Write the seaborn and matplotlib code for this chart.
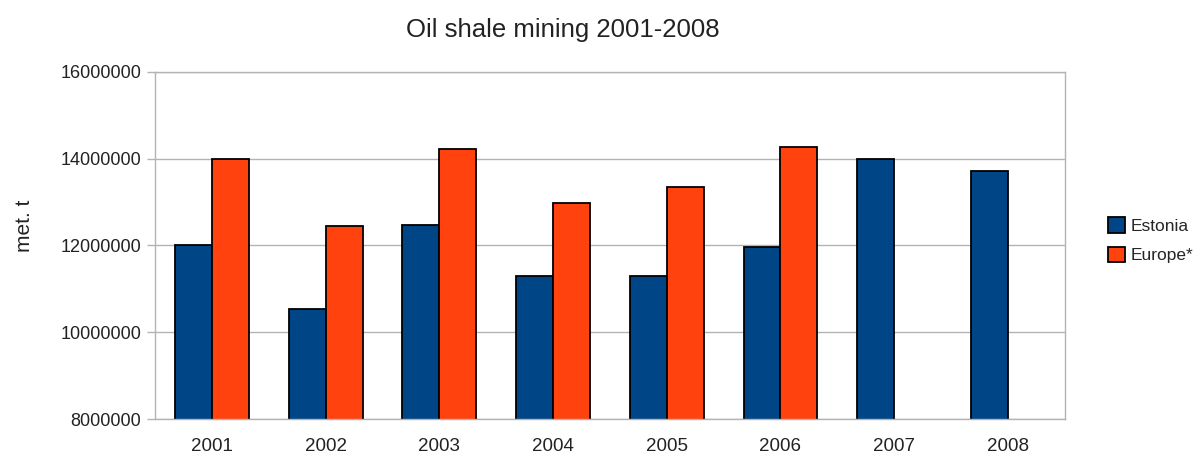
import numpy as np
import pandas as pd
import seaborn as sns
import matplotlib.pyplot as plt
from matplotlib.ticker import FuncFormatter, FixedLocator

years = ['2001', '2002', '2003', '2004', '2005', '2006', '2007', '2008']
estonia = [12000000, 10530000, 12480000, 11300000, 11300000, 11970000, 14000000, 13720000]
europe = [14000000, 12450000, 14220000, 12990000, 13350000, 14260000, np.nan, np.nan]
regions = ['Estonia', 'Europe*']
colors = ['#004586', '#ff420e']

df = pd.DataFrame({
    'year': years * 2,
    'value': estonia + europe,
    'region': [regions[0]] * len(years) + [regions[1]] * len(years),
})

sns.set_style('white')
plt.rcParams['font.family'] = ['Liberation Sans', 'DejaVu Sans']

fig = plt.figure(figsize=(11.94, 4.55), dpi=100)
ax = fig.add_axes([0.1298, 0.079, 0.762, 0.763])

sns.barplot(data=df, x='year', y='value', hue='region', hue_order=regions,
            palette=colors, saturation=1, width=0.65, edgecolor='black',
            linewidth=1.3, errorbar=None, ax=ax)

ax.set_ylim(8000000, 16000000)
ax.set_xlim(-0.5, 7.5)
ax.set_yticks(np.arange(8000000, 16000001, 2000000))
ax.yaxis.set_major_formatter(FuncFormatter(lambda v, p: f'{int(v)}'))
ax.yaxis.grid(True, color='#b3b3b3', linewidth=1)
ax.set_axisbelow(True)

# year labels centred, small ticks on the category boundaries
ax.xaxis.set_minor_locator(FixedLocator(np.arange(-0.5, 8, 1)))
ax.tick_params(axis='x', which='major', length=0, labelsize=13.5, pad=14, colors='#222222')
ax.tick_params(axis='x', which='minor', length=6, color='#b3b3b3', width=1)
ax.tick_params(axis='y', which='major', length=6, color='#b3b3b3', width=1,
               labelsize=13, pad=4, labelcolor='#222222', left=True)

for s in ax.spines.values():
    s.set_visible(True)
    s.set_color('#b3b3b3')
    s.set_linewidth(1)

ax.set_xlabel('')
ax.set_ylabel('met. t', fontsize=15, color='#222222')
ax.yaxis.set_label_coords(-0.133, 0.556)

fig.text(0.4715, 0.934, 'Oil shale mining 2001-2008', ha='center', va='center',
         fontsize=18.5, color='#222222')

handles, labels = ax.get_legend_handles_labels()
ax.legend(handles, labels, loc='center left', bbox_to_anchor=(1.03, 0.515),
          frameon=False, fontsize=12.5, handlelength=1.0, handleheight=1.0,
          handletextpad=0.3, labelspacing=0.75)

fig.savefig('out.png', dpi=100, facecolor='white')
